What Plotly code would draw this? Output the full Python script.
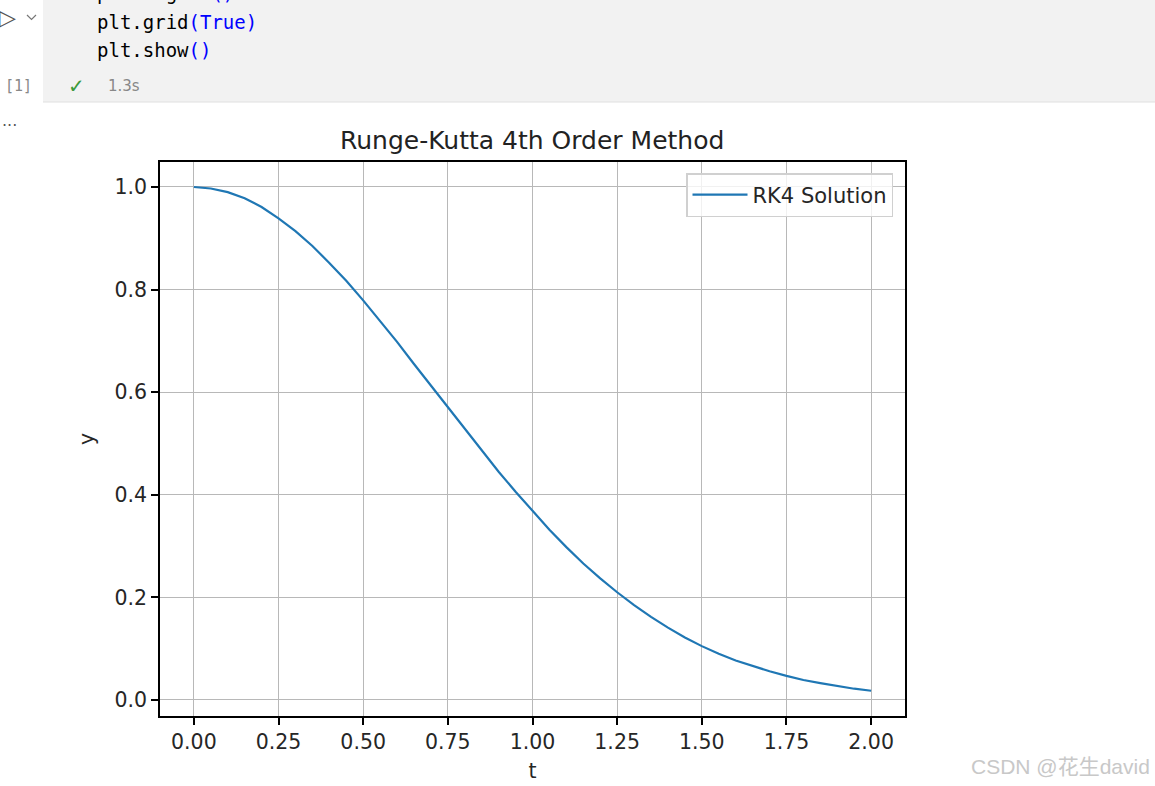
import plotly.graph_objects as go

# ---- data ----
t_vals = [0.0, 0.05, 0.1, 0.15, 0.2, 0.25, 0.3, 0.35, 0.4, 0.45, 0.5, 0.55, 0.6, 0.65, 0.7,
          0.75, 0.8, 0.85, 0.9, 0.95, 1.0, 1.05, 1.1, 1.15, 1.2, 1.25, 1.3, 1.35, 1.4, 1.45,
          1.5, 1.55, 1.6, 1.65, 1.7, 1.75, 1.8, 1.85, 1.9, 1.95, 2.0]
y_vals = [1.000, 0.997, 0.990, 0.978, 0.961, 0.939, 0.914, 0.885, 0.852, 0.817, 0.779,
          0.739, 0.698, 0.655, 0.613, 0.570, 0.527, 0.486, 0.445, 0.406, 0.368, 0.332,
          0.298, 0.266, 0.237, 0.210, 0.185, 0.162, 0.141, 0.122, 0.105, 0.090, 0.077,
          0.066, 0.056, 0.047, 0.039, 0.033, 0.027, 0.022, 0.018]
x_ticks = [0.0, 0.25, 0.5, 0.75, 1.0, 1.25, 1.5, 1.75, 2.0]
x_tick_labels = ["0.00", "0.25", "0.50", "0.75", "1.00", "1.25", "1.50", "1.75", "2.00"]
y_ticks = [0.0, 0.2, 0.4, 0.6, 0.8, 1.0]
y_tick_labels = ["0.0", "0.2", "0.4", "0.6", "0.8", "1.0"]
series_name = "RK4 Solution"
title_text = "Runge-Kutta 4th Order Method"

W, H = 1155, 786
L, R, T, B = 160, 250, 162, 70
PW, PH = W - L - R, H - T - B


def px(x):
    return (x - L) / PW


def py(y):
    return (H - B - y) / PH


fig = go.Figure()
fig.add_trace(go.Scatter(x=t_vals, y=y_vals, mode="lines", name=series_name,
                         line=dict(color="#1f77b4", width=2.2, shape="linear")))

FONT = "DejaVu Sans, Liberation Sans, sans-serif"
MONO = "DejaVu Sans Mono, Liberation Mono, monospace"

axis_common = dict(showline=True, linecolor="black", linewidth=1.6, mirror=True,
                   ticks="outside", ticklen=7, tickwidth=1.6, tickcolor="black",
                   showgrid=True, gridcolor="#b8b8b8", gridwidth=1.1, zeroline=False,
                   tickfont=dict(family=FONT, size=20.5, color="#262626"))

fig.update_layout(
    width=W, height=H,
    margin=dict(l=L, r=R, t=T, b=B, autoexpand=False),
    paper_bgcolor="white", plot_bgcolor="white",
    showlegend=True,
    legend=dict(x=px(893), y=py(173), xanchor="right", yanchor="top",
                bgcolor="rgba(255,255,255,0.8)", bordercolor="#d0d0d0", borderwidth=1.5,
                itemwidth=55,
                font=dict(family=FONT, size=21, color="#262626")),
    xaxis=dict(range=[-0.1, 2.1], tickvals=x_ticks, ticktext=x_tick_labels,
               title=dict(text="t", font=dict(family=FONT, size=20.5, color="#262626"), standoff=10),
               **axis_common),
    yaxis=dict(range=[-0.0312, 1.0487], tickvals=y_ticks, ticktext=y_tick_labels,
               title=dict(text="y", font=dict(family=FONT, size=20.5, color="#262626"), standoff=14),
               **axis_common),
)

shapes = [
    # notebook cell background
    dict(type="rect", xref="paper", yref="paper", x0=px(43), x1=px(1160), y0=py(102), y1=py(-5),
         fillcolor="#f2f2f2", line=dict(width=0), layer="below"),
    dict(type="line", xref="paper", yref="paper", x0=px(43), x1=px(1160), y0=py(102), y1=py(102),
         line=dict(color="#e0e0e0", width=1)),
    # run chevron
    dict(type="path", xref="paper", yref="paper",
         path=f"M {px(27)},{py(15)} L {px(31.5)},{py(19.5)} L {px(36)},{py(15)}",
         line=dict(color="#777", width=1.2)),
]
fig.update_layout(shapes=shapes)

ann = []


def text(x, y, s, size, color, family=FONT, xanchor="left"):
    ann.append(dict(xref="paper", yref="paper", x=px(x), y=py(y), text=s, showarrow=False,
                    xanchor=xanchor, yanchor="middle", font=dict(family=family, size=size, color=color)))


BLUE = "#0000ff"
text(95, -7, f'plt.legend<span style="color:{BLUE}">()</span>', 19, "#000", MONO)
text(95, 22, f'plt.grid<span style="color:{BLUE}">(True)</span>', 19, "#000", MONO)
text(95, 50, f'plt.show<span style="color:{BLUE}">()</span>', 19, "#000", MONO)
text(-3, 17, "▷", 22, "#555")
text(3, 86, "[1]", 15, "#888", MONO)
text(66, 86, "✓", 20, "#3c9a3c")
text(106, 86, "1.3s", 15, "#888", FONT)
text(0, 126, "···", 16, "#555")
text(532, 141, title_text, 25, "#222", FONT, xanchor="center")
text(1152, 766, "CSDN @花生david", 21, "#c8c8c8",
     "Liberation Sans, Noto Sans CJK SC, sans-serif", xanchor="right")
fig.update_layout(annotations=ann)

fig.write_html("out.html", config={"displayModeBar": False},
               post_script="document.body.style.margin='0';document.body.style.overflow='hidden';")
